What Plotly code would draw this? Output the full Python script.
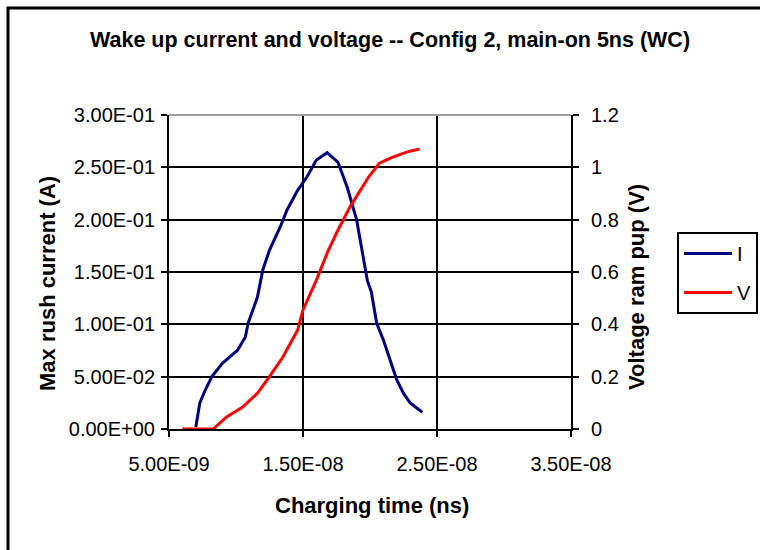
import plotly.graph_objects as go

# Wake-up transient: rush current (A) and voltage ramp-up (V) vs charging time (s)
time_current = [7.0e-9, 7.3e-9, 7.7e-9, 8.2e-9, 9.0e-9, 1.01e-8, 1.07e-8, 1.09e-8, 1.16e-8,
                1.20e-8, 1.25e-8, 1.33e-8, 1.38e-8, 1.46e-8, 1.53e-8, 1.60e-8, 1.68e-8,
                1.76e-8, 1.83e-8, 1.90e-8, 1.94e-8, 1.98e-8, 2.01e-8, 2.05e-8, 2.10e-8,
                2.15e-8, 2.20e-8, 2.25e-8, 2.30e-8, 2.39e-8]
current = [0.002, 0.025, 0.037, 0.050, 0.063, 0.075, 0.088, 0.101, 0.126,
           0.152, 0.171, 0.193, 0.209, 0.228, 0.241, 0.257, 0.264,
           0.255, 0.231, 0.200, 0.171, 0.142, 0.131, 0.101, 0.085,
           0.066, 0.047, 0.034, 0.025, 0.016]

time_voltage = [6.0e-9, 8.3e-9, 9.3e-9, 1.05e-8, 1.16e-8, 1.25e-8, 1.35e-8, 1.46e-8, 1.50e-8,
                1.60e-8, 1.68e-8, 1.75e-8, 1.85e-8, 1.93e-8, 1.99e-8, 2.07e-8, 2.17e-8,
                2.28e-8, 2.37e-8]
voltage = [0.0, 0.0, 0.046, 0.084, 0.137, 0.200, 0.275, 0.378, 0.455,
           0.569, 0.672, 0.749, 0.848, 0.913, 0.963, 1.016, 1.039,
           1.059, 1.070]

x_ticks = [5e-9, 1.5e-8, 2.5e-8, 3.5e-8]
x_tick_labels = ["5.00E-09", "1.50E-08", "2.50E-08", "3.50E-08"]
i_ticks = [0, 0.05, 0.10, 0.15, 0.20, 0.25, 0.30]
i_tick_labels = ["0.00E+00", "5.00E-02", "1.00E-01", "1.50E-01", "2.00E-01", "2.50E-01", "3.00E-01"]
v_ticks = [0, 0.2, 0.4, 0.6, 0.8, 1.0, 1.2]
v_tick_labels = ["0", "0.2", "0.4", "0.6", "0.8", "1", "1.2"]

FONT = "Liberation Sans, Arial, sans-serif"

fig = go.Figure()
fig.add_trace(go.Scatter(x=time_current, y=current, name="I", mode="lines",
                         line=dict(color="#000080", width=3), legendgroup="I"))
fig.add_trace(go.Scatter(x=time_voltage, y=voltage, name="V", mode="lines", yaxis="y2",
                         line=dict(color="#ff0000", width=3), legendgroup="V"))

L, R, T, B = 169, 189, 115, 121
W, H = 760, 550
pw, ph = W - L - R, H - T - B

def px_x(p):
    return (p - L) / pw

def px_y(p):
    return (H - B - p) / ph

fig.update_layout(
    width=W, height=H,
    margin=dict(l=L, r=R, t=T, b=B, pad=0, autoexpand=False),
    paper_bgcolor="white", plot_bgcolor="white",
    font=dict(family=FONT, size=20, color="black"),
    showlegend=True,
    legend=dict(x=px_x(677), y=px_y(232), xanchor="left", yanchor="top",
                bordercolor="black", borderwidth=2, bgcolor="white",
                font=dict(size=20), tracegroupgap=10, traceorder="grouped",
                itemwidth=48),
    xaxis=dict(range=[5e-9, 3.5e-8], tickvals=x_ticks, ticktext=x_tick_labels,
               showgrid=True, gridcolor="black", gridwidth=2,
               showline=True, linecolor="black", linewidth=2,
               ticks="outside", ticklen=6, tickwidth=2, tickcolor="black",
               ticklabelstandoff=10, zeroline=False, automargin=False),
    yaxis=dict(range=[0, 0.3], tickvals=i_ticks, ticktext=i_tick_labels,
               showgrid=True, gridcolor="black", gridwidth=2,
               showline=True, linecolor="black", linewidth=2,
               ticks="outside", ticklen=6, tickwidth=2, tickcolor="black",
               ticklabelstandoff=2, zeroline=False, automargin=False),
    yaxis2=dict(range=[0, 1.2], tickvals=v_ticks, ticktext=v_tick_labels,
                overlaying="y", side="right", showgrid=False,
                showline=True, linecolor="black", linewidth=2,
                ticks="outside", ticklen=6, tickwidth=2, tickcolor="black",
                ticklabelstandoff=8, zeroline=False, automargin=False),
)

# Light grey top edge of the plot area
fig.add_shape(type="line", xref="paper", yref="paper", x0=0, x1=1, y0=1, y1=1,
              line=dict(color="#a0a0a0", width=2), layer="above")

# Outer chart frame
fig.add_shape(type="rect", xref="paper", yref="paper",
              x0=px_x(8), x1=px_x(790), y0=px_y(8), y1=px_y(600),
              line=dict(color="black", width=3), fillcolor="rgba(0,0,0,0)", layer="below")

fig.add_annotation(text="<b>Wake up current and voltage -- Config 2, main-on 5ns (WC)</b>",
                   xref="paper", yref="paper", x=px_x(390), y=px_y(40),
                   showarrow=False, font=dict(size=21.5, family=FONT),
                   xanchor="center", yanchor="middle")
fig.add_annotation(text="<b>Charging time (ns)</b>", xref="paper", yref="paper",
                   x=px_x(372), y=px_y(505), showarrow=False,
                   font=dict(size=22), xanchor="center", yanchor="middle")
fig.add_annotation(text="<b>Max rush current (A)</b>", xref="paper", yref="paper",
                   x=px_x(47), y=px_y(284), showarrow=False, textangle=-90,
                   font=dict(size=22), xanchor="center", yanchor="middle")
fig.add_annotation(text="<b>Voltage ram pup (V)</b>", xref="paper", yref="paper",
                   x=px_x(636), y=px_y(287), showarrow=False, textangle=-90,
                   font=dict(size=22), xanchor="center", yanchor="middle")

fig.write_html("out.html")
